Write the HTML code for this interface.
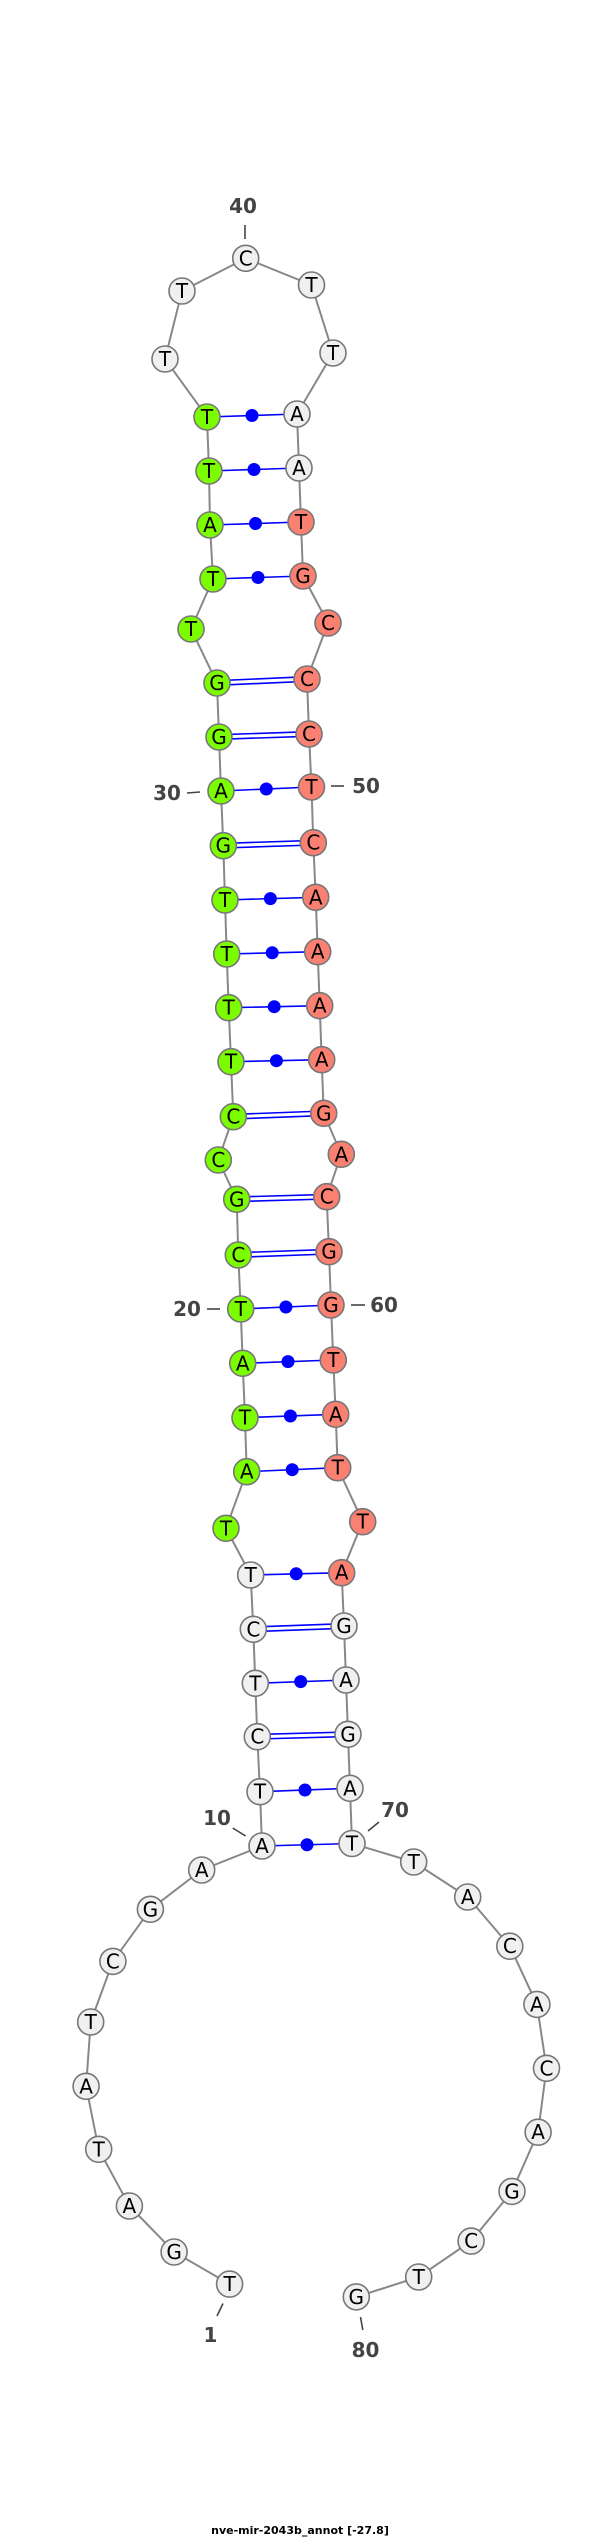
<!DOCTYPE html>
<html><head><meta charset="utf-8"><style>
html,body{margin:0;padding:0;background:#fff;}
svg{display:block;}
.n{stroke:#777;stroke-width:1.6;}
.g{fill:#7cfc00}.r{fill:#fa8072}.w{fill:#f0f0f0}
.t{font-family:"DejaVu Sans","Liberation Sans",sans-serif;font-size:20px;text-anchor:middle;fill:#000;}
.l{font-family:"DejaVu Sans","Liberation Sans",sans-serif;font-size:20px;font-weight:bold;fill:#444;}
.p{stroke:#0000ff;stroke-width:1.6;}
.tk{stroke:#444;stroke-width:1.6;}
</style></head><body>
<svg width="600" height="2542" viewBox="0 0 600 2542" xmlns="http://www.w3.org/2000/svg">
<polyline fill="none" stroke="#888" stroke-width="2" points="229.6,2284.1 174.1,2252 129.4,2206 98.7,2149.3 86.1,2086.3 90.7,2022 112.9,1961.4 150.4,1909.3 201.7,1870 262,1846 260,1791.7 257.3,1736.7 255.3,1683.3 253.3,1629.3 250.7,1575 226,1528.3 246.7,1471.7 245,1417.7 242.7,1363.3 240.7,1309 238.3,1255 236.7,1199.3 218.3,1160 233.3,1116.7 231,1061.7 228.7,1007.7 226.7,954 225,900 223.3,845.7 221,791 219,737 217,683 191,629 213,579 210,525 209,471 207,417 165,359 182,291 245.7,258.3 311.5,285 333,353 297,414 299,468 301,522 303,576 328,623 307,679 309,734 311.5,787 313.3,842.7 315.7,897.3 317.7,951.7 319.7,1005.7 321.7,1059.7 323.7,1113.3 341.3,1154.3 326.7,1196.7 329,1251.7 331,1305 333.3,1360 335.7,1414.3 337.7,1467.7 362.7,1521.7 341.7,1572.7 344,1626 346,1680 348,1734.3 350,1788.3 352,1843.5 413.7,1862 467.7,1897 509.8,1946.2 536.9,2004.4 546.5,2068.3 538.1,2132.2 512,2191.4 471.1,2241.1 418.7,2277 356.3,2296.9"/>
<!-- single pairs -->
<g class="p">
<line x1="262" y1="1846" x2="352" y2="1843.5"/>
<line x1="260" y1="1791.7" x2="350" y2="1788.3"/>
<line x1="255.3" y1="1683.3" x2="346" y2="1680"/>
<line x1="250.7" y1="1575" x2="341.7" y2="1572.7"/>
<line x1="246.7" y1="1471.7" x2="337.7" y2="1467.7"/>
<line x1="245" y1="1417.7" x2="335.7" y2="1414.3"/>
<line x1="242.7" y1="1363.3" x2="333.3" y2="1360"/>
<line x1="240.7" y1="1309" x2="331" y2="1305"/>
<line x1="231" y1="1061.7" x2="321.7" y2="1059.7"/>
<line x1="228.7" y1="1007.7" x2="319.7" y2="1005.7"/>
<line x1="226.7" y1="954" x2="317.7" y2="951.7"/>
<line x1="225" y1="900" x2="315.7" y2="897.3"/>
<line x1="221" y1="791" x2="311.5" y2="787"/>
<line x1="213" y1="579" x2="303" y2="576"/>
<line x1="210" y1="525" x2="301" y2="522"/>
<line x1="209" y1="471" x2="299" y2="468"/>
<line x1="207" y1="417" x2="297" y2="414"/>
<!-- double pairs -->
<line x1="257.3" y1="1734.4" x2="348" y2="1732"/><line x1="257.3" y1="1739" x2="348" y2="1736.6"/>
<line x1="253.3" y1="1627" x2="344" y2="1623.7"/><line x1="253.3" y1="1631.6" x2="344" y2="1628.3"/>
<line x1="238.3" y1="1252.7" x2="329" y2="1249.4"/><line x1="238.3" y1="1257.3" x2="329" y2="1254"/>
<line x1="236.7" y1="1197" x2="326.7" y2="1194.4"/><line x1="236.7" y1="1201.6" x2="326.7" y2="1199"/>
<line x1="233.3" y1="1114.4" x2="323.7" y2="1111"/><line x1="233.3" y1="1119" x2="323.7" y2="1115.6"/>
<line x1="223.3" y1="843.4" x2="313.3" y2="840.4"/><line x1="223.3" y1="848" x2="313.3" y2="845"/>
<line x1="219" y1="734.7" x2="309" y2="731.7"/><line x1="219" y1="739.3" x2="309" y2="736.3"/>
<line x1="217" y1="680.7" x2="307" y2="676.7"/><line x1="217" y1="685.3" x2="307" y2="681.3"/>
</g>
<g fill="#0000ff">
<circle cx="307" cy="1844.8" r="6.5"/><circle cx="305" cy="1790" r="6.5"/><circle cx="300.7" cy="1681.6" r="6.5"/>
<circle cx="296.2" cy="1573.8" r="6.5"/><circle cx="292.2" cy="1469.7" r="6.5"/><circle cx="290.4" cy="1416" r="6.5"/>
<circle cx="288" cy="1361.6" r="6.5"/><circle cx="285.9" cy="1307" r="6.5"/><circle cx="276.4" cy="1060.7" r="6.5"/>
<circle cx="274.2" cy="1006.7" r="6.5"/><circle cx="272.2" cy="952.8" r="6.5"/><circle cx="270.4" cy="898.6" r="6.5"/>
<circle cx="266.3" cy="789" r="6.5"/><circle cx="258" cy="577.5" r="6.5"/><circle cx="255.5" cy="523.5" r="6.5"/>
<circle cx="254" cy="469.5" r="6.5"/><circle cx="252" cy="415.5" r="6.5"/>
</g>
<!-- nodes -->
<g class="n">
<circle class="w" cx="229.6" cy="2284.1" r="13"/><circle class="w" cx="174.1" cy="2252" r="13"/><circle class="w" cx="129.4" cy="2206" r="13"/><circle class="w" cx="98.7" cy="2149.3" r="13"/><circle class="w" cx="86.1" cy="2086.3" r="13"/><circle class="w" cx="90.7" cy="2022" r="13"/><circle class="w" cx="112.9" cy="1961.4" r="13"/><circle class="w" cx="150.4" cy="1909.3" r="13"/><circle class="w" cx="201.7" cy="1870" r="13"/><circle class="w" cx="262" cy="1846" r="13"/>
<circle class="w" cx="260" cy="1791.7" r="13"/><circle class="w" cx="257.3" cy="1736.7" r="13"/><circle class="w" cx="255.3" cy="1683.3" r="13"/><circle class="w" cx="253.3" cy="1629.3" r="13"/><circle class="w" cx="250.7" cy="1575" r="13"/>
<circle class="g" cx="226" cy="1528.3" r="13"/><circle class="g" cx="246.7" cy="1471.7" r="13"/><circle class="g" cx="245" cy="1417.7" r="13"/><circle class="g" cx="242.7" cy="1363.3" r="13"/><circle class="g" cx="240.7" cy="1309" r="13"/><circle class="g" cx="238.3" cy="1255" r="13"/><circle class="g" cx="236.7" cy="1199.3" r="13"/><circle class="g" cx="218.3" cy="1160" r="13"/><circle class="g" cx="233.3" cy="1116.7" r="13"/><circle class="g" cx="231" cy="1061.7" r="13"/><circle class="g" cx="228.7" cy="1007.7" r="13"/><circle class="g" cx="226.7" cy="954" r="13"/><circle class="g" cx="225" cy="900" r="13"/><circle class="g" cx="223.3" cy="845.7" r="13"/><circle class="g" cx="221" cy="791" r="13"/><circle class="g" cx="219" cy="737" r="13"/><circle class="g" cx="217" cy="683" r="13"/><circle class="g" cx="191" cy="629" r="13"/><circle class="g" cx="213" cy="579" r="13"/><circle class="g" cx="210" cy="525" r="13"/><circle class="g" cx="209" cy="471" r="13"/><circle class="g" cx="207" cy="417" r="13"/>
<circle class="w" cx="165" cy="359" r="13"/><circle class="w" cx="182" cy="291" r="13"/><circle class="w" cx="245.7" cy="258.3" r="13"/><circle class="w" cx="311.5" cy="285" r="13"/><circle class="w" cx="333" cy="353" r="13"/><circle class="w" cx="297" cy="414" r="13"/><circle class="w" cx="299" cy="468" r="13"/>
<circle class="r" cx="301" cy="522" r="13"/><circle class="r" cx="303" cy="576" r="13"/><circle class="r" cx="328" cy="623" r="13"/><circle class="r" cx="307" cy="679" r="13"/><circle class="r" cx="309" cy="734" r="13"/><circle class="r" cx="311.5" cy="787" r="13"/><circle class="r" cx="313.3" cy="842.7" r="13"/><circle class="r" cx="315.7" cy="897.3" r="13"/><circle class="r" cx="317.7" cy="951.7" r="13"/><circle class="r" cx="319.7" cy="1005.7" r="13"/><circle class="r" cx="321.7" cy="1059.7" r="13"/><circle class="r" cx="323.7" cy="1113.3" r="13"/><circle class="r" cx="341.3" cy="1154.3" r="13"/><circle class="r" cx="326.7" cy="1196.7" r="13"/><circle class="r" cx="329" cy="1251.7" r="13"/><circle class="r" cx="331" cy="1305" r="13"/><circle class="r" cx="333.3" cy="1360" r="13"/><circle class="r" cx="335.7" cy="1414.3" r="13"/><circle class="r" cx="337.7" cy="1467.7" r="13"/><circle class="r" cx="362.7" cy="1521.7" r="13"/><circle class="r" cx="341.7" cy="1572.7" r="13"/>
<circle class="w" cx="344" cy="1626" r="13"/><circle class="w" cx="346" cy="1680" r="13"/><circle class="w" cx="348" cy="1734.3" r="13"/><circle class="w" cx="350" cy="1788.3" r="13"/><circle class="w" cx="352" cy="1843.5" r="13"/>
<circle class="w" cx="413.7" cy="1862" r="13"/><circle class="w" cx="467.7" cy="1897" r="13"/><circle class="w" cx="509.8" cy="1946.2" r="13"/><circle class="w" cx="536.9" cy="2004.4" r="13"/><circle class="w" cx="546.5" cy="2068.3" r="13"/><circle class="w" cx="538.1" cy="2132.2" r="13"/><circle class="w" cx="512" cy="2191.4" r="13"/><circle class="w" cx="471.1" cy="2241.1" r="13"/><circle class="w" cx="418.7" cy="2277" r="13"/><circle class="w" cx="356.3" cy="2296.9" r="13"/>
</g>
<g class="t">
<text x="229.6" y="2291.1">T</text><text x="174.1" y="2259">G</text><text x="129.4" y="2213">A</text><text x="98.7" y="2156.3">T</text><text x="86.1" y="2093.3">A</text><text x="90.7" y="2029">T</text><text x="112.9" y="1968.4">C</text><text x="150.4" y="1916.3">G</text><text x="201.7" y="1877">A</text><text x="262" y="1853">A</text>
<text x="260" y="1798.7">T</text><text x="257.3" y="1743.7">C</text><text x="255.3" y="1690.3">T</text><text x="253.3" y="1636.3">C</text><text x="250.7" y="1582">T</text>
<text x="226" y="1535.3">T</text><text x="246.7" y="1478.7">A</text><text x="245" y="1424.7">T</text><text x="242.7" y="1370.3">A</text><text x="240.7" y="1316">T</text><text x="238.3" y="1262">C</text><text x="236.7" y="1206.3">G</text><text x="218.3" y="1167">C</text><text x="233.3" y="1123.7">C</text><text x="231" y="1068.7">T</text><text x="228.7" y="1014.7">T</text><text x="226.7" y="961">T</text><text x="225" y="907">T</text><text x="223.3" y="852.7">G</text><text x="221" y="798">A</text><text x="219" y="744">G</text><text x="217" y="690">G</text><text x="191" y="636">T</text><text x="213" y="586">T</text><text x="210" y="532">A</text><text x="209" y="478">T</text><text x="207" y="424">T</text>
<text x="165" y="366">T</text><text x="182" y="298">T</text><text x="245.7" y="265.3">C</text><text x="311.5" y="292">T</text><text x="333" y="360">T</text><text x="297" y="421">A</text><text x="299" y="475">A</text>
<text x="301" y="529">T</text><text x="303" y="583">G</text><text x="328" y="630">C</text><text x="307" y="686">C</text><text x="309" y="741">C</text><text x="311.5" y="794">T</text><text x="313.3" y="849.7">C</text><text x="315.7" y="904.3">A</text><text x="317.7" y="958.7">A</text><text x="319.7" y="1012.7">A</text><text x="321.7" y="1066.7">A</text><text x="323.7" y="1120.3">G</text><text x="341.3" y="1161.3">A</text><text x="326.7" y="1203.7">C</text><text x="329" y="1258.7">G</text><text x="331" y="1312">G</text><text x="333.3" y="1367">T</text><text x="335.7" y="1421.3">A</text><text x="337.7" y="1474.7">T</text><text x="362.7" y="1528.7">T</text><text x="341.7" y="1579.7">A</text>
<text x="344" y="1633">G</text><text x="346" y="1687">A</text><text x="348" y="1741.3">G</text><text x="350" y="1795.3">A</text><text x="352" y="1850.5">T</text>
<text x="413.7" y="1869">T</text><text x="467.7" y="1904">A</text><text x="509.8" y="1953.2">C</text><text x="536.9" y="2011.4">A</text><text x="546.5" y="2075.3">C</text><text x="538.1" y="2139.2">A</text><text x="512" y="2198.4">G</text><text x="471.1" y="2248.1">C</text><text x="418.7" y="2284">T</text><text x="356.3" y="2303.9">G</text>
</g>
<!-- labels -->
<g class="tk">
<line x1="245" y1="225" x2="245" y2="239"/>
<line x1="187" y1="793" x2="200" y2="792"/>
<line x1="331" y1="786" x2="344" y2="786"/>
<line x1="207" y1="1309" x2="220" y2="1309"/>
<line x1="351" y1="1305" x2="365" y2="1305"/>
<line x1="232.7" y1="1828" x2="245.7" y2="1836"/>
<line x1="368" y1="1831" x2="379" y2="1822"/>
<line x1="217" y1="2316" x2="223" y2="2303.5"/>
<line x1="360.5" y1="2317" x2="362.8" y2="2330"/>
</g>
<g class="l">
<text x="243" y="213" text-anchor="middle">40</text>
<text x="167" y="800" text-anchor="middle">30</text>
<text x="366" y="793" text-anchor="middle">50</text>
<text x="187" y="1316" text-anchor="middle">20</text>
<text x="384" y="1312" text-anchor="middle">60</text>
<text x="217" y="1825" text-anchor="middle">10</text>
<text x="395" y="1817" text-anchor="middle">70</text>
<text x="210.5" y="2342" text-anchor="middle">1</text>
<text x="365.5" y="2357" text-anchor="middle">80</text>
</g>
<text x="300" y="2534" text-anchor="middle" style="font-family:'DejaVu Sans','Liberation Sans',sans-serif;font-size:11px;font-weight:bold;fill:#000;">nve-mir-2043b_annot [-27.8]</text>
</svg>
</body></html>
